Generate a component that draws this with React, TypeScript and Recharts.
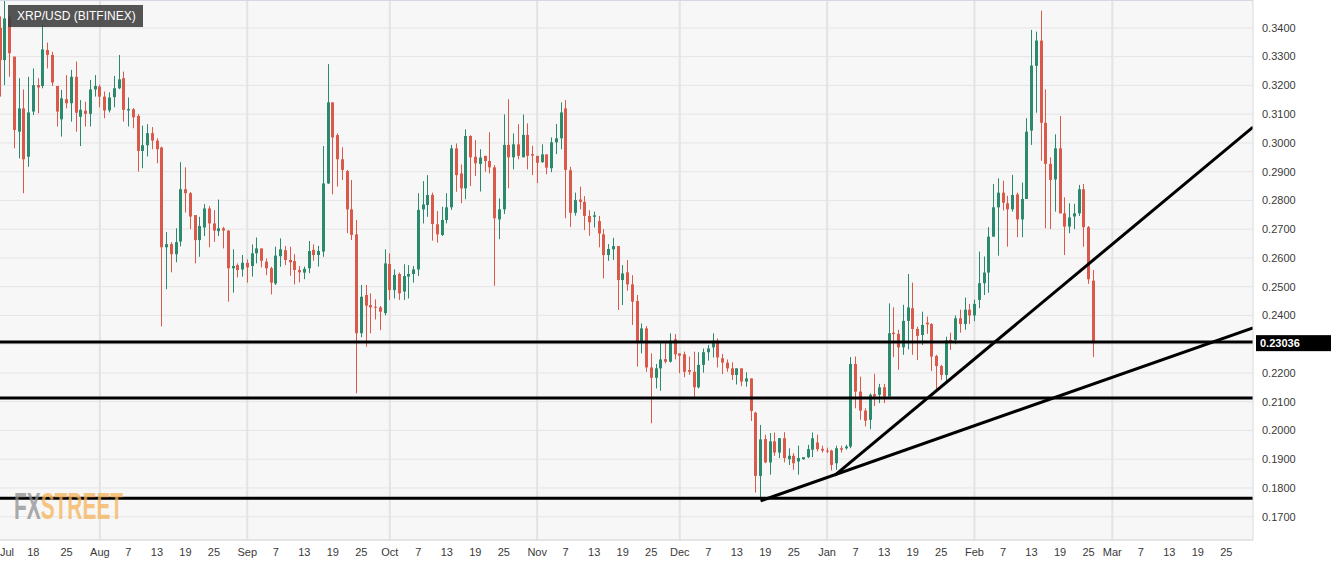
import React from "react";
import { ComposedChart, Bar, XAxis, YAxis, CartesianGrid, ReferenceLine } from "recharts";

// day index = days since 1 Jul 2019; first candle is 11 Jul 2019
const START_DAY = 10;

const opens = [
  0.3400, 0.3288, 0.3439, 0.3300, 0.3039, 0.3120, 0.2952, 0.3109, 0.3201, 0.3198,
  0.3323, 0.3306, 0.3198, 0.3082, 0.3152, 0.3138, 0.3230, 0.3091, 0.3112, 0.3101,
  0.3186, 0.3196, 0.3161, 0.3113, 0.3159, 0.3190, 0.3225, 0.3113, 0.3117, 0.3094,
  0.2972, 0.2992, 0.3034, 0.3008, 0.2984, 0.2637, 0.2648, 0.2613, 0.2657, 0.2839,
  0.2825, 0.2749, 0.2662, 0.2706, 0.2772, 0.2720, 0.2693, 0.2703, 0.2695, 0.2564,
  0.2575, 0.2560, 0.2583, 0.2572, 0.2616, 0.2633, 0.2587, 0.2564, 0.2511, 0.2606,
  0.2627, 0.2593, 0.2589, 0.2558, 0.2549, 0.2564, 0.2628, 0.2610, 0.2622, 0.2859,
  0.3141, 0.3027, 0.2943, 0.2902, 0.2769, 0.2682, 0.2338, 0.2471, 0.2436, 0.2430,
  0.2428, 0.2408, 0.2579, 0.2488, 0.2544, 0.2483, 0.2535, 0.2544, 0.2560, 0.2769,
  0.2784, 0.2819, 0.2717, 0.2680, 0.2732, 0.2776, 0.2981, 0.2894, 0.2842, 0.3024,
  0.2952, 0.2927, 0.2955, 0.2937, 0.2915, 0.2734, 0.2769, 0.2993, 0.2950, 0.2995,
  0.2950, 0.3028, 0.2961, 0.2955, 0.2933, 0.2960, 0.2912, 0.3002, 0.3016, 0.3120,
  0.2905, 0.2757, 0.2803, 0.2795, 0.2746, 0.2743, 0.2728, 0.2682, 0.2610, 0.2630,
  0.2641, 0.2523, 0.2550, 0.2508, 0.2450, 0.2306, 0.2355, 0.2219, 0.2183, 0.2216,
  0.2248, 0.2239, 0.2317, 0.2268, 0.2265, 0.2210, 0.2204, 0.2150, 0.2228, 0.2272,
  0.2289, 0.2312, 0.2251, 0.2236, 0.2216, 0.2193, 0.2216, 0.2170, 0.2181, 0.2062,
  0.1842, 0.1970, 0.1889, 0.1962, 0.1923, 0.1973, 0.1900, 0.1912, 0.1892, 0.1900,
  0.1907, 0.1933, 0.1958, 0.1936, 0.1930, 0.1930, 0.1886, 0.1938, 0.1938, 0.1944,
  0.2231, 0.2135, 0.2069, 0.2037, 0.2126, 0.2124, 0.2150, 0.2118, 0.2340, 0.2336,
  0.2289, 0.2381, 0.2425, 0.2353, 0.2332, 0.2375, 0.2370, 0.2259, 0.2224, 0.2193,
  0.2315, 0.2315, 0.2390, 0.2370, 0.2420, 0.2400, 0.2454, 0.2512, 0.2549, 0.2674,
  0.2776, 0.2827, 0.2790, 0.2769, 0.2821, 0.2734, 0.2805, 0.3043, 0.3268, 0.3356,
  0.3070, 0.2927, 0.2873, 0.2981, 0.2755, 0.2709, 0.2744, 0.2755, 0.2839, 0.2707, 0.2521,
];

const highs = [
  0.3440, 0.3497, 0.3440, 0.3300, 0.3225, 0.3186, 0.3230, 0.3259, 0.3225, 0.3410,
  0.3349, 0.3317, 0.3198, 0.3184, 0.3236, 0.3254, 0.3283, 0.3149, 0.3143, 0.3219,
  0.3236, 0.3202, 0.3179, 0.3176, 0.3233, 0.3306, 0.3248, 0.3158, 0.3121, 0.3100,
  0.3060, 0.3065, 0.3055, 0.3016, 0.2987, 0.2690, 0.2655, 0.2703, 0.2933, 0.2915,
  0.2829, 0.2749, 0.2743, 0.2787, 0.2780, 0.2766, 0.2803, 0.2708, 0.2697, 0.2630,
  0.2581, 0.2610, 0.2595, 0.2647, 0.2671, 0.2633, 0.2598, 0.2569, 0.2639, 0.2668,
  0.2641, 0.2639, 0.2613, 0.2572, 0.2570, 0.2659, 0.2647, 0.2642, 0.2989, 0.3274,
  0.3141, 0.3033, 0.2985, 0.2906, 0.2871, 0.2732, 0.2506, 0.2506, 0.2477, 0.2456,
  0.2433, 0.2630, 0.2616, 0.2560, 0.2549, 0.2578, 0.2575, 0.2572, 0.2825, 0.2867,
  0.2888, 0.2827, 0.2763, 0.2778, 0.2825, 0.2993, 0.2998, 0.2925, 0.3047, 0.3027,
  0.3010, 0.2978, 0.2955, 0.3037, 0.2923, 0.2807, 0.3099, 0.3152, 0.3033, 0.3065,
  0.3099, 0.3068, 0.2990, 0.2955, 0.2995, 0.2960, 0.3019, 0.3066, 0.3141, 0.3149,
  0.2917, 0.2827, 0.2848, 0.2815, 0.2766, 0.2761, 0.2746, 0.2700, 0.2648, 0.2670,
  0.2641, 0.2575, 0.2593, 0.2540, 0.2471, 0.2372, 0.2363, 0.2268, 0.2231, 0.2305,
  0.2305, 0.2338, 0.2335, 0.2268, 0.2274, 0.2257, 0.2274, 0.2272, 0.2285, 0.2297,
  0.2338, 0.2320, 0.2266, 0.2247, 0.2237, 0.2216, 0.2216, 0.2202, 0.2181, 0.2065,
  0.2019, 0.1985, 0.1991, 0.1993, 0.1973, 0.1994, 0.1938, 0.1921, 0.1947, 0.1907,
  0.1950, 0.1993, 0.1985, 0.1947, 0.1940, 0.1933, 0.1947, 0.1947, 0.1950, 0.2255,
  0.2257, 0.2187, 0.2077, 0.2129, 0.2197, 0.2162, 0.2162, 0.2442, 0.2428, 0.2350,
  0.2437, 0.2544, 0.2514, 0.2361, 0.2413, 0.2396, 0.2373, 0.2263, 0.2228, 0.2326,
  0.2340, 0.2400, 0.2420, 0.2462, 0.2440, 0.2455, 0.2622, 0.2605, 0.2707, 0.2857,
  0.2877, 0.2869, 0.2816, 0.2889, 0.2827, 0.2862, 0.3086, 0.3393, 0.3387, 0.3460,
  0.3186, 0.2950, 0.3030, 0.3094, 0.2811, 0.2790, 0.2788, 0.2854, 0.2857, 0.2711, 0.2558,
];

const lows = [
  0.3161, 0.3201, 0.3230, 0.2981, 0.2946, 0.2825, 0.2917, 0.3097, 0.3103, 0.3190,
  0.3259, 0.3198, 0.3057, 0.3022, 0.3120, 0.3074, 0.3039, 0.2989, 0.3057, 0.3057,
  0.3161, 0.3124, 0.3086, 0.3106, 0.3124, 0.3187, 0.3074, 0.3057, 0.3051, 0.2900,
  0.2912, 0.2953, 0.2978, 0.2929, 0.2362, 0.2491, 0.2550, 0.2585, 0.2640, 0.2758,
  0.2700, 0.2581, 0.2604, 0.2676, 0.2637, 0.2656, 0.2676, 0.2633, 0.2448, 0.2479,
  0.2532, 0.2535, 0.2514, 0.2535, 0.2581, 0.2567, 0.2540, 0.2473, 0.2506, 0.2569,
  0.2575, 0.2538, 0.2508, 0.2515, 0.2526, 0.2547, 0.2590, 0.2570, 0.2604, 0.2857,
  0.2821, 0.2848, 0.2871, 0.2686, 0.2662, 0.2129, 0.2324, 0.2291, 0.2338, 0.2386,
  0.2349, 0.2400, 0.2454, 0.2459, 0.2454, 0.2454, 0.2459, 0.2514, 0.2537, 0.2720,
  0.2743, 0.2660, 0.2653, 0.2676, 0.2720, 0.2767, 0.2830, 0.2790, 0.2804, 0.2850,
  0.2885, 0.2831, 0.2900, 0.2894, 0.2503, 0.2665, 0.2753, 0.2842, 0.2908, 0.2943,
  0.2950, 0.2908, 0.2888, 0.2860, 0.2931, 0.2891, 0.2898, 0.2961, 0.2978, 0.2738,
  0.2708, 0.2747, 0.2769, 0.2697, 0.2677, 0.2706, 0.2637, 0.2529, 0.2590, 0.2593,
  0.2419, 0.2436, 0.2486, 0.2367, 0.2222, 0.2268, 0.2204, 0.2025, 0.2146, 0.2138,
  0.2233, 0.2236, 0.2247, 0.2199, 0.2185, 0.2193, 0.2117, 0.2146, 0.2201, 0.2243,
  0.2254, 0.2219, 0.2196, 0.2204, 0.2175, 0.2160, 0.2154, 0.2152, 0.2033, 0.1784,
  0.1765, 0.1886, 0.1846, 0.1912, 0.1904, 0.1889, 0.1880, 0.1863, 0.1846, 0.1898,
  0.1904, 0.1907, 0.1927, 0.1923, 0.1921, 0.1861, 0.1863, 0.1923, 0.1933, 0.1938,
  0.2077, 0.2037, 0.2014, 0.2004, 0.2085, 0.2095, 0.2095, 0.2118, 0.2255, 0.2211,
  0.2263, 0.2282, 0.2263, 0.2245, 0.2297, 0.2336, 0.2207, 0.2139, 0.2176, 0.2164,
  0.2280, 0.2300, 0.2340, 0.2350, 0.2370, 0.2380, 0.2425, 0.2471, 0.2479, 0.2674,
  0.2608, 0.2765, 0.2639, 0.2761, 0.2672, 0.2672, 0.2805, 0.2993, 0.3105, 0.2938,
  0.2703, 0.2700, 0.2761, 0.2755, 0.2610, 0.2686, 0.2700, 0.2746, 0.2639, 0.2510, 0.2255,
];

const closes = [
  0.3288, 0.3433, 0.3312, 0.3045, 0.3120, 0.2943, 0.3106, 0.3201, 0.3193, 0.3325,
  0.3306, 0.3210, 0.3109, 0.3155, 0.3138, 0.3230, 0.3105, 0.3115, 0.3101, 0.3186,
  0.3198, 0.3161, 0.3113, 0.3158, 0.3190, 0.3221, 0.3115, 0.3118, 0.3089, 0.2972,
  0.2992, 0.3034, 0.3008, 0.2978, 0.2637, 0.2648, 0.2613, 0.2655, 0.2839, 0.2825,
  0.2744, 0.2662, 0.2711, 0.2772, 0.2720, 0.2695, 0.2703, 0.2695, 0.2564, 0.2572,
  0.2558, 0.2583, 0.2567, 0.2616, 0.2633, 0.2590, 0.2564, 0.2514, 0.2608, 0.2630,
  0.2593, 0.2585, 0.2558, 0.2550, 0.2562, 0.2624, 0.2610, 0.2624, 0.2859, 0.3141,
  0.3019, 0.2943, 0.2906, 0.2769, 0.2680, 0.2338, 0.2465, 0.2434, 0.2428, 0.2428,
  0.2413, 0.2581, 0.2488, 0.2541, 0.2477, 0.2537, 0.2544, 0.2560, 0.2767, 0.2786,
  0.2819, 0.2718, 0.2682, 0.2732, 0.2776, 0.2981, 0.2888, 0.2842, 0.3024, 0.2950,
  0.2929, 0.2949, 0.2937, 0.2915, 0.2738, 0.2769, 0.2993, 0.2950, 0.2995, 0.2955,
  0.3028, 0.2955, 0.2956, 0.2931, 0.2960, 0.2914, 0.3002, 0.3016, 0.3106, 0.2906,
  0.2757, 0.2801, 0.2795, 0.2746, 0.2724, 0.2748, 0.2685, 0.2610, 0.2631, 0.2641,
  0.2523, 0.2546, 0.2508, 0.2448, 0.2306, 0.2355, 0.2219, 0.2183, 0.2216, 0.2247,
  0.2239, 0.2312, 0.2265, 0.2260, 0.2204, 0.2204, 0.2150, 0.2228, 0.2272, 0.2285,
  0.2312, 0.2254, 0.2236, 0.2216, 0.2193, 0.2216, 0.2170, 0.2181, 0.2068, 0.1842,
  0.1969, 0.1889, 0.1962, 0.1923, 0.1973, 0.1904, 0.1912, 0.1886, 0.1904, 0.1907,
  0.1935, 0.1973, 0.1935, 0.1930, 0.1927, 0.1880, 0.1938, 0.1933, 0.1944, 0.2231,
  0.2135, 0.2069, 0.2034, 0.2124, 0.2118, 0.2150, 0.2118, 0.2338, 0.2335, 0.2289,
  0.2381, 0.2428, 0.2353, 0.2329, 0.2367, 0.2369, 0.2257, 0.2224, 0.2193, 0.2313,
  0.2309, 0.2390, 0.2370, 0.2420, 0.2400, 0.2440, 0.2512, 0.2549, 0.2674, 0.2776,
  0.2827, 0.2792, 0.2769, 0.2819, 0.2734, 0.2805, 0.3039, 0.3269, 0.3356, 0.3070,
  0.2927, 0.2871, 0.2981, 0.2755, 0.2709, 0.2741, 0.2755, 0.2839, 0.2707, 0.2526, 0.23036,
];

const tickDays = [
  10, 17, 24, 31, 37, 43, 49, 55, 62, 68, 74, 80, 86, 92, 98, 104, 110, 116,
  123, 129, 135, 141, 147, 153, 159, 165, 171, 177, 184, 190, 196, 202, 208,
  215, 221, 227, 233, 239, 244, 250, 256, 262, 268,
];
const tickLabels = [
  "Jul", "18", "25", "Aug", "7", "13", "19", "25", "Sep", "7", "13", "19", "25", "Oct", "7", "13", "19", "25",
  "Nov", "7", "13", "19", "25", "Dec", "7", "13", "19", "25", "Jan", "7", "13", "19", "25",
  "Feb", "7", "13", "19", "25", "Mar", "7", "13", "19", "25",
];
const monthDays = [31, 62, 92, 123, 153, 184, 215, 244];
const priceTicks = [
  0.17, 0.18, 0.19, 0.2, 0.21, 0.22, 0.23, 0.24, 0.25, 0.26,
  0.27, 0.28, 0.29, 0.3, 0.31, 0.32, 0.33, 0.34,
];

// hand-drawn support levels and trend lines
const levels = [0.2308, 0.2113, 0.1764];
const trendLines = [
  [{ x: 170, y: 0.1755 }, { x: 273.6, y: 0.2357 }],
  [{ x: 185.6, y: 0.1844 }, { x: 273.6, y: 0.3055 }],
];

const X_DOMAIN: [number, number] = [9.99, 273.6];
const Y_DOMAIN: [number, number] = [0.1619, 0.3497];
const GREEN = "#2b8a6d";
const RED = "#d95a4a";
const FONT = "'Liberation Sans', Arial, sans-serif";
const lastPrice = closes[closes.length - 1];

const data = opens.map((o, i) => ({
  day: START_DAY + i,
  open: o,
  high: highs[i],
  low: lows[i],
  close: closes[i],
}));

function Candle(props: any) {
  const { x, y, width, height, payload } = props;
  if (!payload || x == null) return null;
  const { open, close, high, low } = payload;
  const top = Math.min(y, y + height);
  const h = Math.abs(height);
  const range = high - low;
  const py = (v: number) => (range > 0 ? top + ((high - v) / range) * h : top);
  const color = close >= open ? GREEN : RED;
  const cx = Math.floor(x + width / 2);
  const bTop = py(Math.max(open, close));
  const bBot = py(Math.min(open, close));
  return (
    <g>
      <line x1={cx + 0.5} x2={cx + 0.5} y1={top} y2={top + Math.max(h, 1)} stroke={color} strokeWidth={1} />
      <rect x={cx - 1} y={bTop} width={3} height={Math.max(1, bBot - bTop)} fill={color} />
    </g>
  );
}

function XTick(props: any) {
  const { x, y, payload } = props;
  const i = tickDays.indexOf(payload.value);
  const edge = x < 8;
  return (
    <text x={edge ? 0 : x} y={y} dy="0.71em" textAnchor={edge ? "start" : "middle"} fontSize={11} fill="#3a3a3a" fontFamily={FONT}>
      {tickLabels[i]}
    </text>
  );
}

// the live price tag covers the tick label it sits on
function YTick(props: any) {
  const { x, y, payload } = props;
  if (Math.abs(payload.value - lastPrice) < 0.004) return null;
  return (
    <text x={x} y={y} dy="0.35em" textAnchor="start" fontSize={11} fill="#3a3a3a" fontFamily={FONT}>
      {payload.value.toFixed(4)}
    </text>
  );
}

function PriceTag(props: any) {
  const vb = props.viewBox || {};
  const right = vb.x + vb.width;
  return (
    <g>
      <rect x={right + 3} y={vb.y - 8} width={75} height={16} fill="#000" />
      <text x={right + 7} y={vb.y} dy="0.35em" fontSize={11} fontWeight="bold" fill="#fff" fontFamily={FONT}>
        {lastPrice.toFixed(5)}
      </text>
    </g>
  );
}

function monthLines(args: any) {
  const xa = args && args.xAxis;
  if (xa && typeof xa.scale === "function") return monthDays.map((d) => xa.scale(d));
  const off = args.offset;
  return monthDays.map((d) => off.left + ((d - X_DOMAIN[0]) / (X_DOMAIN[1] - X_DOMAIN[0])) * off.width);
}

export default function App() {
  return (
    <div style={{ position: "absolute", left: 0, top: 0, width: 1331, height: 566, background: "#fff", overflow: "hidden" }}>
      <ComposedChart width={1331} height={566} data={data} margin={{ top: 0, right: 0, bottom: 0, left: 0 }}>
        <CartesianGrid fill="#f7f7f7" stroke="#e5e5e5" vertical={false} />
        <CartesianGrid stroke="#e3e3e3" strokeWidth={2} horizontal={false} verticalCoordinatesGenerator={monthLines} />
        <XAxis
          dataKey="day"
          type="number"
          domain={X_DOMAIN}
          allowDataOverflow
          ticks={tickDays}
          interval={0}
          tick={<XTick />}
          tickLine={false}
          axisLine={{ stroke: "#d9d9d9" }}
          height={26}
        />
        <YAxis
          orientation="right"
          type="number"
          domain={Y_DOMAIN}
          allowDataOverflow
          ticks={priceTicks}
          interval={0}
          tick={<YTick />}
          tickLine={false}
          tickSize={6}
          tickMargin={3}
          axisLine={{ stroke: "#d9d9d9" }}
          width={78}
        />
        <Bar
          dataKey={(d: any) => [d.low, d.high]}
          barSize={3}
          shape={<Candle />}
          isAnimationActive={false}
        />
        {levels.map((v) => (
          <ReferenceLine key={v} y={v} stroke="#000" strokeWidth={3} ifOverflow="hidden" />
        ))}
        {trendLines.map((seg, i) => (
          <ReferenceLine key={i} segment={seg} stroke="#000" strokeWidth={3} ifOverflow="hidden" />
        ))}
        <ReferenceLine
          y={lastPrice}
          stroke="none"
          ifOverflow="hidden"
          label={(p: any) => <PriceTag viewBox={p.viewBox} />}
        />
      </ComposedChart>
      <div style={{ position: "absolute", left: 0, top: 0, width: 1253, height: 1, background: "#d3d7e6" }} />
      <div
        style={{
          position: "absolute", left: 8, top: 5, width: 135, height: 22,
          background: "rgba(62,62,62,0.88)", color: "#fff", fontFamily: FONT,
          fontSize: 12, lineHeight: "22px", paddingLeft: 9, boxSizing: "border-box", whiteSpace: "nowrap",
        }}
      >
        XRP/USD (BITFINEX)
      </div>
      <div
        style={{
          position: "absolute", left: 14, top: 489, fontFamily: FONT,
          fontWeight: "bold", fontSize: 36, lineHeight: "36px", opacity: 0.75,
          transform: "scaleX(0.58)", transformOrigin: "left top", whiteSpace: "nowrap",
        }}
      >
        <span style={{ color: "#8f8f8f" }}>FX</span>
        <span style={{ color: "#f6b35a" }}>STREET</span>
      </div>
    </div>
  );
}
